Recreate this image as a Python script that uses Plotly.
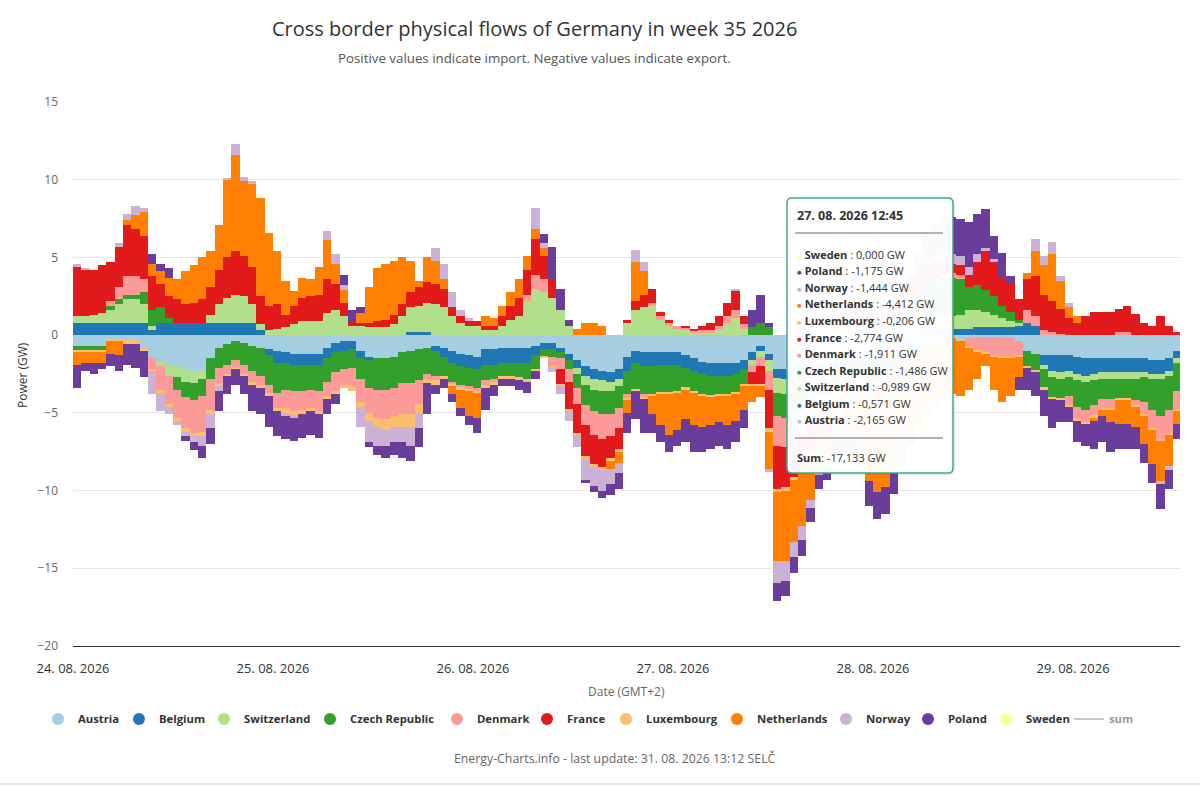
import plotly.graph_objects as go
import pandas as pd

# ---------------- data (GW, hourly, 24.08.2026 00:00 ... 29.08.2026 12:00) ----------------
FIRST_BAR = "2026-08-24 00:30"
N_BARS = 133

COUNTRIES = ["Austria", "Belgium", "Switzerland", "Czech Republic", "Denmark", "France",
             "Luxembourg", "Netherlands", "Norway", "Poland", "Sweden"]
COLORS = ["#a6cee3", "#1f78b4", "#b2df8a", "#33a02c", "#fb9a99", "#e31a1c",
          "#fdbf6f", "#ff7f00", "#cab2d6", "#6a3d9a", "#ffff99"]

AUSTRIA = [
    -0.7, -0.7, -0.7, -0.7, -0.3, -0.3, -0.3, -0.3, -0.8, -1.4, -1.7, -2.0, -2.0, -2.2, -2.3, -2.3, -1.5, -0.8, -0.6, -0.4, -0.5, -0.7, -0.8, -0.9, -1.0,
    -1.1, -1.2, -1.2, -1.2, -1.2, -0.8, -0.5, -0.4, -0.4, -1.0, -1.4, -1.5, -1.5, -1.4, -1.1, -1.0, -0.9, -0.8, -0.7, -0.8, -1.0, -1.2, -1.3, -1.4,
    -0.9, -0.9, -0.8, -0.8, -0.8, -0.8, -0.7, -0.5, -0.5, -0.8, -1.2, -1.6, -2.0, -2.2, -2.3, -2.4, -2.2, -1.4, -1.0, -1.1, -1.1, -1.1, -1.1, -1.1,
    -1.3, -1.5, -1.7, -1.8, -1.8, -1.8, -1.8, -1.6, -1.1, -0.7, -1.2, -2.165, -2.2, -2.1, -2.0, -1.9, -1.8, -1.8, -1.7, -1.6, -1.6, -1.5, -1.5, -1.5,
    -1.4, -1.3, -1.2, -1.0, -0.8, -0.6, -0.4, -0.2, -0.1, -0.3, -0.2, -0.1, -0.1, -0.1, -0.1, -0.2, -0.4, -1.0, -1.2, -1.3, -1.3, -1.3, -1.3, -1.4,
    -1.5, -1.5, -1.5, -1.5, -1.5, -1.5, -1.5, -1.5, -1.6, -1.6, -1.5, -1.0,
]
BELGIUM = [
    0.8, 0.8, 0.8, 0.8, 0.8, 0.8, 0.8, 0.8, 0.8, 0.3, 0.8, 0.8, 0.8, 0.8, 0.8, 0.8, 0.8, 0.8, 0.8, 0.8, 0.8, 0.8, 0.3, -0.4, -0.8,
    -0.7, -0.7, -0.7, -0.7, -0.7, -0.7, -0.6, -0.6, -0.5, -0.5, -0.2, 0.0, 0.0, 0.0, 0.0, 0.2, 0.2, 0.2, -0.3, -0.6, -0.8, -0.8, -0.8, -0.8,
    -1.0, -1.0, -1.0, -1.0, -1.0, -1.0, -0.6, -0.4, -0.4, -0.3, -0.4, -0.5, -0.6, -0.6, -0.6, -0.6, -0.6, -0.9, -0.8, -0.9, -0.9, -0.8, -0.8, -0.8,
    -0.8, -0.8, -0.8, -0.8, -0.8, -0.8, -0.7, -0.6, -0.5, -0.3, -0.4, -0.571, -0.6, -0.6, -0.6, -0.6, -0.6, -0.6, -0.6, -0.5, -0.5, -0.5, -0.5, -0.5,
    -0.5, -0.5, -0.5, -0.4, -0.3, 0.2, 0.3, 0.4, 0.4, 0.4, 0.4, 0.5, 0.5, 0.5, 0.5, 0.5, 0.6, 0.8, 0.6, -0.6, -1.0, -1.1, -1.0, -1.1,
    -1.1, -1.0, -0.9, -0.9, -0.9, -0.9, -0.9, -0.9, -0.9, -0.9, -0.8, -0.5,
]
SWITZERLAND = [
    0.4, 0.4, 0.5, 0.6, 0.8, 1.2, 1.5, 1.5, 1.2, 0.3, -0.3, -0.6, -0.7, -0.8, -0.8, -0.5, 0.5, 1.2, 1.6, 1.8, 1.7, 1.2, 0.4, 0.3, 0.4,
    0.5, 0.7, 0.9, 0.9, 0.9, 1.4, 1.6, 1.2, 0.6, 0.6, 0.5, 0.5, 0.5, 0.7, 1.2, 1.6, 1.7, 1.9, 2.0, 1.8, 1.2, 0.8, 0.6, 0.6,
    0.3, 0.3, 0.6, 1.0, 1.2, 2.2, 3.0, 2.8, 2.4, 1.6, 0.6, -0.4, -0.6, -0.7, -0.7, -0.6, -0.5, 0.8, 1.6, 1.8, 1.9, 1.0, 0.6, 0.4,
    0.3, 0.2, 0.2, 0.2, 0.4, 0.8, 1.1, 0.4, -0.3, -0.4, -0.7, -0.989, -1.0, -0.9, -0.8, -0.7, -0.6, -0.5, 0.3, 0.5, 0.7, 0.7, 0.5, 0.4,
    0.5, 0.8, 1.0, 1.2, 1.2, 1.1, 1.0, 0.9, 0.8, 0.9, 1.2, 1.1, 1.0, 0.8, 0.6, 0.4, 0.2, 0.0, 0.0, -0.3, -0.4, -0.4, -0.4, -0.4,
    -0.4, -0.4, -0.4, -0.4, -0.4, -0.4, -0.4, -0.3, -0.3, -0.3, -0.3, -0.3,
]
CZECH_REPUBLIC = [
    -0.3, -0.3, -0.3, -0.3, 0.3, 0.3, 0.3, 0.3, 0.8, 1.0, 1.0, 0.3, -0.8, -1.0, -1.1, -1.1, -1.3, -1.3, -1.3, -1.2, -1.4, -1.6, -1.8, -1.9, -1.9,
    -1.7, -1.7, -1.7, -1.6, -1.7, -1.5, -1.3, -1.2, -1.2, -1.3, -1.8, -2.0, -2.0, -2.0, -2.0, -2.1, -2.0, -1.7, -1.6, -1.2, -1.2, -1.2, -1.2, -1.2,
    -1.0, -0.9, -0.8, -0.8, -0.9, -1.0, -0.9, -0.5, -0.5, -0.4, -0.6, -0.9, -1.3, -1.4, -1.5, -1.5, -1.4, -1.5, -1.7, -1.8, -1.8, -1.8, -1.8, -1.7,
    -1.3, -1.3, -1.3, -1.3, -1.2, -1.2, -1.2, -1.0, 0.5, 0.8, 0.5, -1.486, -1.5, -1.4, -1.3, -1.2, -1.0, -1.0, -1.0, -0.9, -0.9, -0.8, -0.8, -0.8,
    -0.8, -0.6, 0.5, 1.0, 1.5, 1.9, 2.2, 2.4, 2.5, 2.3, 1.5, 1.6, 1.4, 1.2, 0.8, 0.6, 0.2, -1.0, -1.1, -1.2, -1.3, -1.3, -1.2, -1.7,
    -1.8, -1.6, -1.3, -1.3, -1.3, -1.3, -1.4, -1.6, -2.0, -2.4, -2.2, -1.8,
]
DENMARK = [
    0.0, 0.0, 0.0, 0.0, 0.3, 0.8, 1.2, 1.2, 0.8, -0.8, -1.5, -1.8, -1.8, -2.0, -2.1, -2.3, -2.0, -1.0, -0.6, -0.5, -0.6, -0.7, -0.6, -0.5, -1.0,
    -1.2, -1.3, -1.2, -1.2, -1.3, -0.9, -1.2, -1.0, -1.2, -1.5, -1.6, -1.8, -1.9, -1.8, -2.0, -2.0, -1.5, -0.3, -0.3, 0.0, -0.2, -0.2, -0.2, -0.2,
    -0.3, -0.2, 0.0, 0.0, 0.0, 0.4, 0.9, 0.8, -0.6, -0.7, -0.8, -1.0, -1.3, -1.5, -1.6, -1.4, -1.3, -0.3, 0.0, -0.2, 0.2, 0.2, 0.2, 0.2,
    0.2, 0.1, 0.1, 0.1, 0.2, 0.4, 0.5, 0.3, -0.5, -0.6, -1.2, -1.911, -1.9, -1.7, -1.6, -1.4, -1.2, -1.1, -1.0, -0.8, -0.6, -0.5, -0.5, -0.4,
    -0.4, -0.3, -0.3, -0.2, -0.2, -0.2, 0.2, 0.3, 0.3, 0.3, -0.5, -0.9, -1.0, -1.2, -1.3, -1.2, -0.9, 0.8, 0.6, 0.3, 0.2, 0.1, -0.6, -0.8,
    -0.8, -0.7, -0.6, -0.6, 0.2, 0.2, -0.3, -0.8, -1.2, -1.5, -1.5, -1.2,
]
FRANCE = [
    3.2, 3.0, 2.9, 3.1, 2.5, 2.6, 3.3, 3.0, 2.8, 2.2, 1.5, 1.4, 1.5, 1.2, 1.3, 1.5, 1.8, 2.2, 2.6, 2.8, 2.6, 2.4, 1.8, 1.6, 1.6,
    0.8, 1.2, 1.5, 1.6, 1.7, 2.2, 1.7, 0.9, 0.3, 0.2, 0.3, 0.4, 0.5, 0.6, 0.8, 1.0, 1.2, 1.3, 1.3, 1.2, 0.6, 0.4, 0.3, 0.3,
    0.3, 0.3, 0.6, 0.9, 1.2, 1.6, 2.3, 1.5, 1.2, -1.0, -1.8, -1.9, -2.0, -1.9, -1.8, -1.4, -1.3, 0.2, 0.6, 0.8, 0.9, 0.3, 0.2, 0.0,
    0.1, 0.1, 0.3, 0.5, 0.6, 0.9, 1.3, 0.5, -0.8, -1.2, -2.5, -2.774, -2.6, -2.4, -2.2, -1.8, -1.4, -1.2, 0.7, 1.0, 1.3, 1.3, 1.0, 0.8,
    1.0, 1.2, 1.5, 1.6, 1.5, 1.3, 1.0, 0.8, 0.6, 0.6, 0.8, 1.5, 2.5, 2.2, 1.8, 1.8, 1.3, 2.0, 2.6, 2.3, 2.0, 1.6, 1.1, 0.8,
    1.2, 1.5, 1.5, 1.5, 1.5, 1.7, 1.35, 0.8, 0.6, 1.2, 0.6, 0.2,
]
LUXEMBOURG = [
    -0.1, -0.1, -0.1, -0.1, -0.1, -0.1, -0.3, -0.3, -0.2, -0.1, -0.2, -0.2, -0.2, -0.2, -0.2, -0.3, -0.3, -0.2, -0.1, -0.1, -0.1, -0.2, -0.2, -0.2, -0.2,
    -0.3, -0.3, -0.3, -0.2, -0.2, -0.2, -0.2, -0.2, -0.3, -0.3, -0.5, -0.6, -0.7, -0.7, -0.8, -0.8, -0.6, -0.3, -0.3, -0.2, -0.1, -0.1, -0.1, -0.1,
    -0.2, -0.2, -0.2, -0.2, -0.2, -0.2, -0.1, -0.1, -0.1, -0.1, -0.1, -0.1, -0.2, -0.2, -0.2, -0.2, -0.2, -0.1, -0.1, -0.1, -0.1, -0.1, -0.1, -0.1,
    -0.1, -0.1, -0.1, -0.1, -0.1, -0.1, -0.1, -0.1, -0.1, -0.1, -0.2, -0.206, -0.2, -0.2, -0.2, -0.2, -0.1, -0.1, -0.1, -0.1, -0.1, -0.1, -0.1, -0.1,
    -0.1, -0.1, -0.1, -0.1, -0.1, -0.1, -0.1, -0.1, -0.1, -0.1, -0.1, -0.1, -0.1, -0.1, -0.1, -0.1, -0.1, -0.1, -0.1, -0.1, -0.1, -0.1, -0.1, -0.1,
    -0.1, -0.1, -0.1, -0.1, -0.1, -0.1, -0.1, -0.1, -0.1, -0.1, -0.1, -0.1,
]
NETHERLANDS = [
    -0.8, -0.7, -0.7, -0.7, -0.8, -0.9, 0.3, 0.9, 1.5, 0.8, 0.8, 1.2, 1.3, 2.1, 2.4, 2.7, 2.3, 2.9, 5.0, 6.2, 4.8, 5.3, 6.3, 4.7, 3.4,
    2.2, 0.95, 1.3, 1.1, 1.8, 2.5, 1.3, 0.8, 0.0, 0.6, 2.3, 3.45, 3.55, 3.5, 3.0, 2.0, 0.4, 1.6, 1.5, 0.6, -0.5, -1.2, -1.6, -1.6,
    0.65, 0.5, 0.7, 0.85, 1.2, 0.9, 0.6, 0.5, 0.0, 0.0, 0.0, 0.4, 0.8, 0.8, 0.6, -0.5, -0.7, -0.8, 2.5, 1.5, -1.2, -2.0, -2.6, -2.4,
    -1.9, -2.1, -2.0, -1.8, -1.7, -1.9, -1.7, -1.5, -1.0, -0.7, -2.4, -4.412, -4.5, -4.0, -3.6, -2.8, -2.0, -2.0, -2.2, -2.2, -2.8, -3.6, -6.0, -6.8,
    -6.6, -5.9, -5.0, -4.5, -4.3, -4.2, -4.0, -3.8, -3.6, -3.5, -2.7, -1.7, -0.8, -2.1, -2.8, -2.4, -1.3, 0.4, 1.6, 1.9, 3.0, 1.8, 0.7, 0.4,
    0.0, -0.2, -0.4, -0.8, -1.5, -1.5, -1.3, -1.8, -2.2, -2.6, -2.0, -0.8,
]
NORWAY = [
    0.2, 0.15, 0.0, 0.0, 0.0, 0.2, 0.4, 0.6, 0.3, -1.5, -1.2, -0.5, -0.3, -0.3, -0.4, -0.6, -0.9, -0.3, 0.1, 0.7, 0.3, 0.2, 0.0, 0.0, 0.0,
    -0.2, -0.1, 0.0, 0.0, 0.0, 0.6, 0.6, 0.3, 0.0, -1.3, -1.4, -1.2, -1.0, -1.0, -1.0, -1.2, -1.0, 0.0, 0.8, 1.0, 1.0, 0.4, 0.2, 0.0,
    0.0, 0.0, 0.0, 0.0, 0.0, 0.0, 1.4, 0.3, -0.3, -0.5, -0.6, -0.8, -1.3, -1.2, -1.3, -1.0, -0.7, 0.0, 0.8, 0.6, 0.0, 0.0, 0.0, 0.0,
    0.0, 0.0, 0.0, 0.0, 0.0, 0.0, 0.1, 0.0, 0.0, 0.0, -0.2, -1.444, -1.3, -1.0, -0.9, -0.5, -0.3, -0.2, 0.0, 0.0, 0.0, 0.0, 0.0, 0.0,
    0.0, 0.0, 0.0, 0.0, 0.2, 0.3, 0.4, 0.5, 0.6, 0.6, 0.5, 0.5, 0.2, 0.2, 0.0, 0.0, 0.0, 0.0, 0.8, 0.6, 0.8, 0.3, 0.3, 0.0,
    0.0, 0.0, 0.0, 0.0, 0.0, 0.0, 0.0, 0.0, 0.0, -0.2, -0.3, 0.0,
]
POLAND = [
    -1.5, -0.5, -0.7, -0.4, -0.8, -1.0, -1.3, -1.5, -1.7, 0.6, 0.5, 0.6, 0.0, -0.3, -0.5, -0.8, -1.0, -1.3, -1.2, -1.0, -1.2, -1.7, -1.7, -2.0, -1.6,
    -1.5, -1.5, -1.5, -1.5, -1.5, -1.0, -0.6, 0.7, 0.7, 0.4, -0.3, -0.6, -0.8, -0.8, -1.0, -1.0, -1.2, -2.0, -0.6, -0.6, -0.5, -0.5, -0.6, -1.0,
    -1.4, -0.7, -0.5, -0.5, -0.6, -0.7, -0.5, 0.6, 2.1, 1.4, 0.4, 0.0, -0.2, -0.4, -0.5, -0.7, -1.0, -1.3, -1.8, -2.2, -1.2, -1.1, -1.1, -1.0,
    -1.5, -1.7, -1.6, -1.5, -1.5, -1.5, -1.4, -1.2, 1.1, 1.8, 0.3, -1.175, -1.0, -1.0, -1.0, -0.9, -0.9, -0.8, -1.4, -1.4, -1.3, -1.5, -1.6, -1.7,
    -1.7, -1.5, -1.4, -0.8, 0.9, 1.7, 2.0, 2.3, 2.4, 2.4, 2.9, 2.6, 2.5, 1.5, 1.6, 0.5, -0.8, -1.4, -1.5, -1.7, -1.9, -1.4, -1.0, -1.4,
    -1.4, -1.8, -1.7, -1.9, -1.6, -1.6, -1.4, -1.2, -1.2, -1.6, -1.2, -1.0,
]
SWEDEN = [
    0, 0, 0, 0, 0, 0, 0, 0, 0, 0, 0, 0, 0, 0, 0, 0, 0, 0, 0, 0, 0, 0, 0, 0, 0,
    0, 0, 0, 0, 0, 0, 0, 0, 0, 0, 0, 0, 0, 0, 0, 0, 0, 0, 0, 0, 0, 0, 0, 0,
    0, 0, 0, 0, 0, 0, 0, 0, 0, 0, 0, 0, 0, 0, 0, 0, 0, 0, 0, 0, 0, 0, 0, 0,
    0, 0, 0, 0, 0, 0, 0, 0, 0, 0, 0, 0, 0, 0, 0, 0, 0, 0, 0, 0, 0, 0, 0, 0,
    0, 0, 0, 0, 0, 0, 0, 0, 0, 0, 0, 0, 0, 0, 0, 0, 0, 0, 0, 0, 0, 0, 0, 0,
    0, 0, 0, 0, 0, 0, 0, 0, 0, 0, 0, 0,
]

DAY_TICKS = ["2026-08-24", "2026-08-25", "2026-08-26", "2026-08-27", "2026-08-28", "2026-08-29"]
DAY_LABELS = ["24. 08. 2026", "25. 08. 2026", "26. 08. 2026", "27. 08. 2026", "28. 08. 2026", "29. 08. 2026"]
X_RANGE = ["2026-08-24 00:00", "2026-08-29 12:50"]

HOVER_INDEX = 84
HOVER_LABEL = "27. 08. 2026 12:45"

SERIES = [AUSTRIA, BELGIUM, SWITZERLAND, CZECH_REPUBLIC, DENMARK, FRANCE,
          LUXEMBOURG, NETHERLANDS, NORWAY, POLAND, SWEDEN]
for s in SERIES:
    assert len(s) == N_BARS, len(s)

times = pd.date_range(FIRST_BAR, periods=N_BARS, freq="h")

# ---------------- figure ----------------
W, H = 1200, 786
L, R, T, B = 73, 20, 102, 140
PW, PH = W - L - R, H - T - B


def px(x):
    return (x - L) / PW


def py(y):
    return (H - B - y) / PH


FONT = "Open Sans, Lato, sans-serif"
# legend entry text start (px) for the 11 countries + sum
LEGEND_TEXT_X = [77, 158, 243, 349, 476, 566, 645, 756, 865, 947, 1025, 1108]
LEGEND_Y = 719

fig = go.Figure()

for name, col, vals in zip(COUNTRIES, COLORS, SERIES):
    fig.add_trace(go.Bar(x=times, y=vals, name=name, marker=dict(color=col, line=dict(width=0)),
                         showlegend=False, legendgroup=name, hoverinfo="skip"))

legend_layouts = {}
for i, (name, col) in enumerate(zip(COUNTRIES, COLORS)):
    key = "legend" if i == 0 else f"legend{i + 1}"
    fig.add_trace(go.Scatter(x=[None], y=[None], mode="markers", name=name, legendgroup=name,
                             legend=key, marker=dict(color=col, size=12, symbol="circle"), hoverinfo="skip"))

total = [round(sum(v), 3) for v in zip(*SERIES)]
fig.add_trace(go.Scatter(x=times, y=total, mode="lines", name="sum", visible="legendonly", legend="legend12",
                         line=dict(color="#999999", width=2)))

for i, tx in enumerate(LEGEND_TEXT_X):
    key = "legend" if i == 0 else f"legend{i + 1}"
    legend_layouts[key] = dict(orientation="h", x=px(tx - 39), xanchor="left", y=py(LEGEND_Y), yanchor="middle",
                               font=dict(size=11.3, color="#333333", weight="bold"), itemclick=False,
                               bgcolor="rgba(0,0,0,0)", borderwidth=0)

fig.update_layout(
    width=W, height=H,
    margin=dict(l=L, r=R, t=T, b=B),
    paper_bgcolor="white", plot_bgcolor="white",
    font=dict(family=FONT, color="#333333"),
    barmode="relative", bargap=0,
    showlegend=True,
    xaxis=dict(type="date", range=X_RANGE, tickvals=DAY_TICKS, ticktext=DAY_LABELS,
               showgrid=False, zeroline=False, showline=True, linecolor="#333333", linewidth=1.3,
               ticks="", tickfont=dict(size=13, color="#333333"), ticklabelstandoff=10),
    yaxis=dict(range=[-20, 15], dtick=5, tick0=0, showgrid=True, gridcolor="#e6e6e6", gridwidth=1,
               zeroline=False, showline=False, ticks="", tickfont=dict(size=12, color="#666666"),
               ticklabelstandoff=14),
    **legend_layouts,
)

ann = []
ann.append(dict(text="Cross border physical flows of Germany in week 35 2026", x=px(534), y=py(29),
                font=dict(size=20, color="#333333")))
ann.append(dict(text="Positive values indicate import. Negative values indicate export.", x=px(534), y=py(58),
                font=dict(size=13.3, color="#555555")))
ann.append(dict(text="Power (GW)", x=px(22), y=py(375), textangle=-90, font=dict(size=12, color="#333333")))
ann.append(dict(text="Date (GMT+2)", x=px(626), y=py(691), font=dict(size=12, color="#666666")))
ann.append(dict(text="Energy-Charts.info - last update: 31. 08. 2026 13:12 SELČ", x=px(615), y=py(758),
                font=dict(size=12.3, color="#666666")))
for a in ann:
    a.update(xref="paper", yref="paper", showarrow=False, xanchor="center", yanchor="middle")

shapes = []
shapes.append(dict(type="line", xref="paper", yref="paper", x0=px(0), x1=px(W), y0=py(784), y1=py(784),
                   line=dict(color="#cccccc", width=1)))


# tooltip box
def rrect(x0, y0, x1, y1, r):
    pts = [("M", (x0 + r, y0)), ("L", (x1 - r, y0)), ("Q", (x1, y0, x1, y0 + r)),
           ("L", (x1, y1 - r)), ("Q", (x1, y1, x1 - r, y1)), ("L", (x0 + r, y1)),
           ("Q", (x0, y1, x0, y1 - r)), ("L", (x0, y0 + r)), ("Q", (x0, y0, x0 + r, y0))]
    out = []
    for cmd, c in pts:
        coords = []
        for i in range(0, len(c), 2):
            coords.append(f"{px(c[i]):.5f},{py(c[i + 1]):.5f}")
        out.append(cmd + " " + " ".join(coords))
    return " ".join(out) + " Z"


TX0, TY0, TX1, TY1 = 787, 198, 953, 473
shapes.append(dict(type="path", xref="paper", yref="paper", path=rrect(TX0 + 2, TY0 + 2, TX1 + 2, TY1 + 2, 5),
                   fillcolor="rgba(0,0,0,0.06)", line=dict(width=0)))
shapes.append(dict(type="path", xref="paper", yref="paper", path=rrect(TX0, TY0, TX1, TY1, 5),
                   fillcolor="rgba(255,255,255,0.97)", line=dict(color="#3fa98c", width=1.5)))
for ly in (233, 438):
    shapes.append(dict(type="line", xref="paper", yref="paper", x0=px(795), x1=px(943), y0=py(ly), y1=py(ly),
                       line=dict(color="#999999", width=1.5)))


def fmt(v):
    return f"{v:.3f}".replace(".", ",")


tip = [dict(text=f"<b>{HOVER_LABEL}</b>", x=px(795), y=py(215), font=dict(size=12.5, color="#333333"))]
row_y = [254, 270.6, 287.2, 303.8, 320.4, 337, 353.6, 370.2, 386.8, 403.4, 420]
for i, (name, col, vals) in enumerate(zip(COUNTRIES[::-1], COLORS[::-1], SERIES[::-1])):
    tip.append(dict(text=f"<span style='color:{col};font-size:8px'>●</span> <b>{name}</b> : {fmt(vals[HOVER_INDEX])} GW",
                    x=px(795), y=py(row_y[i]), font=dict(size=11, color="#333333")))
tip.append(dict(text=f"<b>Sum</b>: {fmt(total[HOVER_INDEX])} GW", x=px(795), y=py(457),
                font=dict(size=11, color="#333333")))
for a in tip:
    a.update(xref="paper", yref="paper", xanchor="left", yanchor="middle", showarrow=False)
    ann.append(a)

fig.update_layout(annotations=ann, shapes=shapes)
fig.write_html("out.html", config={"displayModeBar": False},
               post_script="document.body.style.margin='0';document.body.style.overflow='hidden';")
